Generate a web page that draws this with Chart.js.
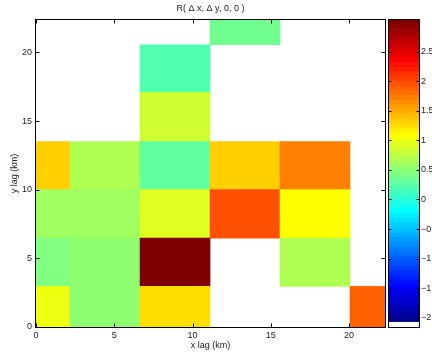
<!DOCTYPE html>
<html>
<head>
<meta charset="utf-8">
<script src="https://cdn.jsdelivr.net/npm/chart.js@4.4.1/dist/chart.umd.min.js"></script>
<style>
  html, body { margin: 0; padding: 0; background: #fff; overflow: hidden; }
  #wrap { position: relative; width: 432px; height: 354px; overflow: hidden; }
  #main { position: absolute; left: 0; top: 0; }
  #cbar { position: absolute; left: 388px; top: 0; }
</style>
</head>
<body>
<div id="wrap">
  <canvas id="main" width="432" height="354"></canvas>
  <canvas id="cbar" width="62" height="354"></canvas>
</div>
<script>
/* lag bins: x bin centres, y bin edges (km) */
const xCenters = [-0.06, 4.412, 8.884, 13.356, 17.828, 22.3];
const yEdges = [0, 2.96, 6.47, 10.01, 13.5, 17.09, 20.56, 22.36];

/* R values per y bin (bottom -> top), null = empty bin */
const row0 = [1.00, 0.52, 1.24, null, null, 1.88];
const row1 = [0.44, 0.52, 3.03, null, 0.68, null];
const row2 = [0.60, 0.60, 0.92, 1.96, 1.08, null];
const row3 = [1.32, 0.68, 0.28, 1.32, 1.72, null];
const row4 = [null, null, 0.84, null, null, null];
const row5 = [null, null, 0.20, null, null, null];
const row6 = [null, null, null, 0.36, null, null];
const rows = [row0, row1, row2, row3, row4, row5, row6];

const xTicks = [0, 5, 10, 15, 20];
const yTicks = [0, 5, 10, 15, 20];
const cbTicks = [-2, -1.5, -1, -0.5, 0, 0.5, 1, 1.5, 2, 2.5];
const cMin = -2.157, cMax = 3.036;

const FONT = { family: "'Liberation Sans', Arial, sans-serif", size: 9 };
const TXT = '#222';

/* jet(64) with white as the lowest (empty) level */
const nLevels = 65;
function jetU(k) {
    if (k < 1 || k > 47) return 0;
    if (k <= 16) return k / 16;
    if (k <= 31) return 1;
    return (48 - k) / 16;
}
function jet(i) {
    const c = [jetU(i - 24), jetU(i - 8), jetU(i + 8)].map(u => Math.round(u * 255));
    return 'rgb(' + c.join(',') + ')';
}
function levelColor(k) { return k === 0 ? '#ffffff' : jet(k); }
function colorFor(v) {
    let k = Math.floor((v - cMin) / (cMax - cMin) * nLevels);
    k = Math.max(0, Math.min(nLevels - 1, k));
    return levelColor(k);
}
const fmt = v => (v < 0 ? '\u2212' + Math.abs(v) : String(v));

/* box + inward ticks, matlab style */
const boxTicks = {
    id: 'boxTicks',
    afterDraw(chart, args, opts) {
        const { ctx, chartArea: a } = chart;
        const L = Math.round(a.left) - 0.5, R = Math.round(a.right) + 0.5;
        const T = Math.round(a.top) - 0.5, B = Math.round(a.bottom) + 0.5;
        const len = opts.len || 4;
        ctx.save();
        ctx.strokeStyle = '#000';
        ctx.lineWidth = 1;
        ctx.beginPath();
        if (opts.xTicks) {
            const sx = chart.scales.x;
            sx.ticks.forEach(t => {
                const p = Math.round(sx.getPixelForValue(t.value)) + 0.5;
                ctx.moveTo(p, B); ctx.lineTo(p, B - len);
                ctx.moveTo(p, T); ctx.lineTo(p, T + len);
            });
        }
        const sy = chart.scales.y;
        sy.ticks.forEach(t => {
            const p = Math.round(sy.getPixelForValue(t.value)) + 0.5;
            ctx.moveTo(L, p); ctx.lineTo(L + len, p);
            ctx.moveTo(R, p); ctx.lineTo(R - len, p);
        });
        ctx.stroke();
        ctx.strokeRect(L, T, R - L, B - T);
        ctx.restore();
    }
};

/* ── heat map ─────────────────────────────────────────── */
const cellSets = rows.map((vals, r) => {
    const pts = [], cols = [];
    vals.forEach((v, c) => {
        if (v === null) return;
        pts.push({ x: xCenters[c], y: [yEdges[r], yEdges[r + 1]] });
        cols.push(colorFor(v));
    });
    return {
        data: pts,
        backgroundColor: cols,
        borderWidth: 0,
        grouped: false,
        barPercentage: 1,
        categoryPercentage: 1,
        clip: 0
    };
});

new Chart(document.getElementById('main').getContext('2d'), {
    type: 'bar',
    data: { datasets: cellSets },
    options: {
        responsive: false,
        animation: false,
        events: [],
        layout: { padding: { left: 0, right: 47, top: 0, bottom: 0 } },
        plugins: {
            legend: { display: false },
            tooltip: { enabled: false },
            title: {
                display: true,
                fullSize: false,
                text: 'R( \u0394 x, \u0394 y, 0, 0 )',
                color: TXT,
                font: Object.assign({}, FONT, { weight: 'normal' }),
                padding: { top: 3, bottom: 6.2 }
            },
            boxTicks: { xTicks: true, len: 4 }
        },
        scales: {
            x: {
                type: 'linear',
                min: 0,
                max: 22.3,
                offset: false,
                grid: { display: false, drawTicks: false },
                border: { display: false },
                afterBuildTicks: s => { s.ticks = xTicks.map(v => ({ value: v })); },
                afterFit: s => { s.height = 27; },
                ticks: { padding: 3, color: TXT, font: FONT, maxRotation: 0, autoSkip: false, callback: fmt },
                title: { display: true, text: 'x lag (km)', color: TXT, font: FONT, padding: { top: 0, bottom: 3 } }
            },
            y: {
                type: 'linear',
                min: 0,
                max: 22.36,
                grid: { display: false, drawTicks: false },
                border: { display: false },
                afterBuildTicks: s => { s.ticks = yTicks.map(v => ({ value: v })); },
                afterFit: s => { s.width = 36; },
                ticks: { padding: 4, color: TXT, font: FONT, autoSkip: false, callback: fmt },
                title: { display: true, text: 'y lag (km)', color: TXT, font: FONT, padding: { top: 9.6, bottom: 0 } }
            }
        }
    },
    plugins: [boxTicks]
});

/* ── colour bar ───────────────────────────────────────── */
const step = (cMax - cMin) / nLevels;
const levelSets = [];
for (let k = 0; k < nLevels; k++) {
    levelSets.push({
        data: [[cMin + k * step, cMin + (k + 1) * step]],
        backgroundColor: levelColor(k),
        borderWidth: 0,
        grouped: false,
        barPercentage: 1,
        categoryPercentage: 1
    });
}

new Chart(document.getElementById('cbar').getContext('2d'), {
    type: 'bar',
    data: { labels: [''], datasets: levelSets },
    options: {
        responsive: false,
        animation: false,
        events: [],
        layout: { padding: { left: 1, right: 1, top: 20, bottom: 27 } },
        plugins: {
            legend: { display: false },
            tooltip: { enabled: false },
            boxTicks: { xTicks: false, len: 3 }
        },
        scales: {
            x: { display: false },
            y: {
                position: 'right',
                min: cMin,
                max: cMax,
                grid: { display: false, drawTicks: false },
                border: { display: false },
                afterBuildTicks: s => { s.ticks = cbTicks.map(v => ({ value: v })); },
                afterFit: s => { s.width = 30; },
                ticks: { padding: 2, color: TXT, font: FONT, autoSkip: false, callback: fmt }
            }
        }
    },
    plugins: [boxTicks]
});
</script>
</body>
</html>
